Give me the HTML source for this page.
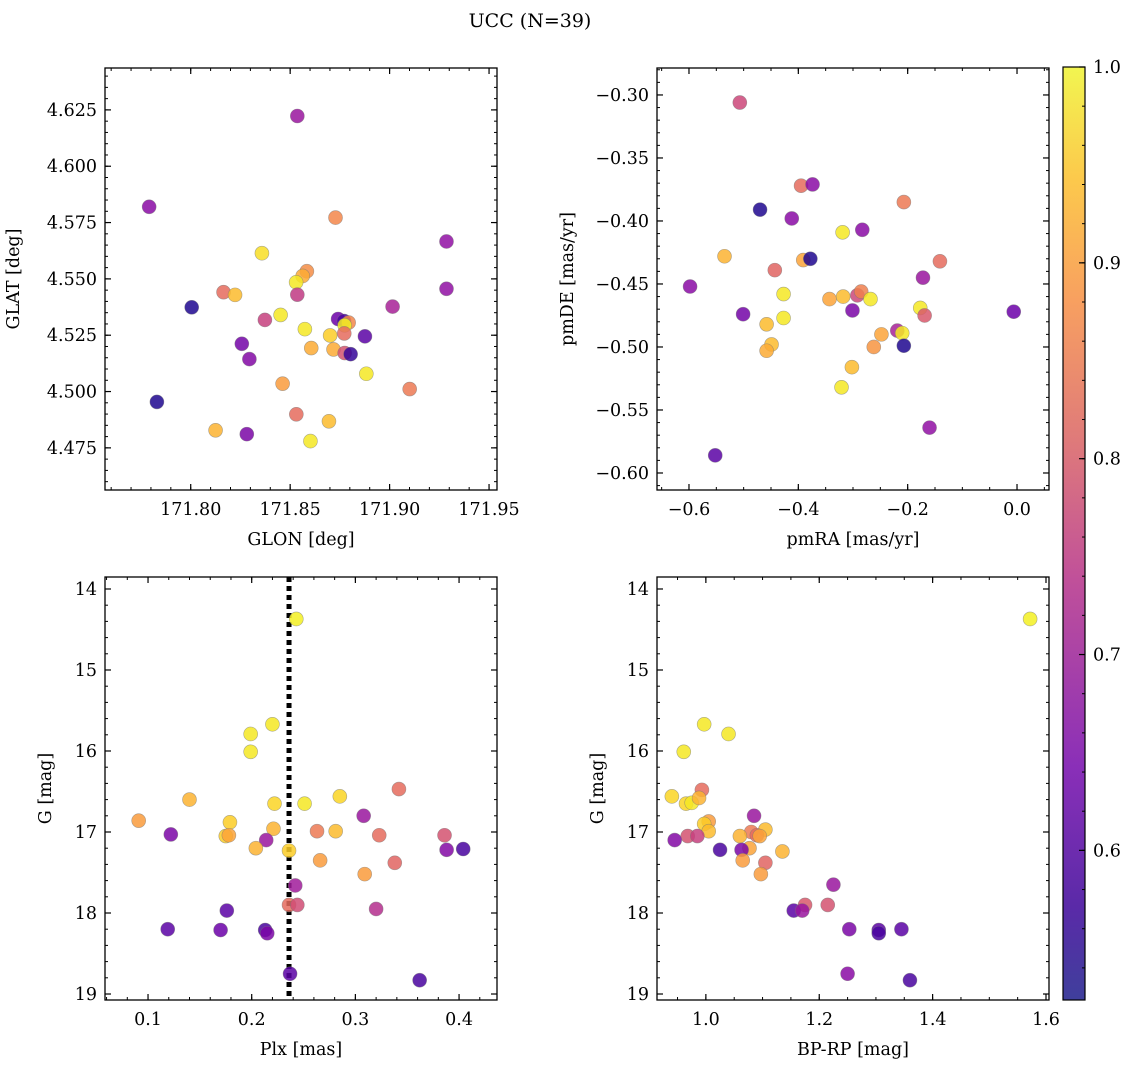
<!DOCTYPE html>
<html><head><meta charset="utf-8"><style>
html,body{margin:0;padding:0;background:#fff;}
svg{display:block;font-family:"DejaVu Serif","Liberation Serif",serif;}
</style></head><body>
<svg id="fig" width="1136" height="1067" viewBox="0 0 1136 1067" xmlns="http://www.w3.org/2000/svg">
<defs>
<linearGradient id="cmap" x1="0" y1="1" x2="0" y2="0">
<stop offset="0" stop-color="#3f3f9c"/><stop offset="0.1" stop-color="#5a2aa8"/><stop offset="0.25" stop-color="#8a2fb8"/><stop offset="0.45" stop-color="#c0509a"/><stop offset="0.6" stop-color="#df7a7a"/><stop offset="0.75" stop-color="#f8a060"/><stop offset="0.88" stop-color="#fcc94c"/><stop offset="1" stop-color="#f2f550"/>
</linearGradient>
</defs>
<text x="530" y="27" text-anchor="middle" font-size="19">UCC (N=39)</text>
</svg>
<script>
// Panel 1: sky position
const glon=[171.8536,171.7791,171.8728,171.9286,171.8358,171.8584,171.8563,171.8530,171.8165,171.8223,171.8536,171.9286,171.8005,171.9015,171.8452,171.8373,171.8741,171.8771,171.8794,171.8774,171.8574,171.8257,171.8876,171.8701,171.8772,171.8606,171.8718,171.8774,171.8804,171.8295,171.8883,171.8462,171.9101,171.7830,171.8531,171.8695,171.8125,171.8282,171.8602];
const glat=[4.6223,4.5820,4.5772,4.5666,4.5614,4.5534,4.5513,4.5485,4.5441,4.5429,4.5430,4.5456,4.5374,4.5377,4.5340,4.5318,4.5322,4.5313,4.5306,4.5294,4.5277,4.5212,4.5245,4.5249,4.5258,4.5193,4.5187,4.5171,4.5166,4.5144,4.5079,4.5035,4.5011,4.4954,4.4899,4.4868,4.4828,4.4811,4.4780];
const prob1=[0.68,0.66,0.86,0.67,0.97,0.87,0.91,0.98,0.82,0.93,0.74,0.67,0.54,0.70,0.98,0.75,0.62,0.58,0.86,0.99,0.98,0.63,0.60,0.95,0.82,0.91,0.91,0.78,0.56,0.65,0.98,0.89,0.84,0.54,0.82,0.93,0.92,0.64,0.98];
// Panel 2: proper motions
const pmra=[-0.507,-0.395,-0.374,-0.470,-0.412,-0.207,-0.319,-0.283,-0.535,-0.391,-0.378,-0.443,-0.141,-0.598,-0.172,-0.427,-0.343,-0.318,-0.292,-0.285,-0.268,-0.301,-0.177,-0.169,-0.501,-0.458,-0.427,-0.006,-0.219,-0.210,-0.248,-0.207,-0.262,-0.449,-0.458,-0.302,-0.321,-0.160,-0.552];
const pmde=[-0.306,-0.372,-0.371,-0.391,-0.398,-0.385,-0.409,-0.407,-0.428,-0.431,-0.430,-0.439,-0.432,-0.452,-0.445,-0.458,-0.462,-0.460,-0.459,-0.456,-0.462,-0.471,-0.469,-0.475,-0.474,-0.482,-0.477,-0.472,-0.487,-0.489,-0.490,-0.499,-0.500,-0.498,-0.503,-0.516,-0.532,-0.564,-0.586];
const prob2=[0.76,0.82,0.66,0.54,0.66,0.84,0.98,0.66,0.92,0.90,0.54,0.81,0.82,0.66,0.68,0.98,0.90,0.93,0.76,0.85,0.98,0.64,0.98,0.79,0.63,0.93,0.98,0.62,0.70,0.98,0.90,0.54,0.88,0.93,0.91,0.93,0.98,0.67,0.60];
// Panel 3: parallax vs G
const plx=[0.243,0.220,0.199,0.199,0.140,0.342,0.285,0.222,0.251,0.091,0.179,0.308,0.122,0.175,0.178,0.221,0.263,0.281,0.323,0.386,0.214,0.204,0.236,0.388,0.404,0.266,0.338,0.309,0.242,0.236,0.244,0.320,0.176,0.119,0.170,0.213,0.215,0.237,0.362];
const gmag3=[14.37,15.67,15.79,16.01,16.60,16.47,16.56,16.65,16.65,16.86,16.88,16.80,17.03,17.05,17.04,16.96,16.99,16.99,17.04,17.04,17.10,17.20,17.23,17.22,17.21,17.35,17.38,17.52,17.66,17.90,17.90,17.95,17.97,18.20,18.21,18.21,18.25,18.75,18.83];
const prob3=[0.99,0.98,0.98,0.98,0.92,0.82,0.96,0.96,0.98,0.89,0.95,0.68,0.64,0.95,0.90,0.92,0.84,0.93,0.82,0.78,0.68,0.92,0.95,0.65,0.58,0.89,0.81,0.89,0.69,0.82,0.77,0.72,0.60,0.60,0.62,0.58,0.64,0.60,0.58];
const plxLine=0.236;
// Panel 4: CMD
const bprp=[1.572,0.997,1.040,0.961,0.993,0.940,0.965,0.975,0.988,1.005,0.997,1.005,1.085,1.080,1.105,1.090,1.060,0.968,0.985,0.945,1.077,1.135,1.025,1.063,1.065,1.105,1.097,1.225,1.175,1.215,1.155,1.170,1.253,1.305,1.305,1.345,1.250,1.360,1.095];
const gmag4=[14.37,15.67,15.79,16.01,16.48,16.56,16.65,16.64,16.58,16.87,16.90,16.99,16.80,17.00,16.97,17.04,17.05,17.05,17.05,17.10,17.20,17.24,17.22,17.22,17.35,17.38,17.52,17.65,17.90,17.90,17.97,17.97,18.20,18.21,18.25,18.20,18.75,18.83,17.05];
const prob4=[0.99,0.98,0.98,0.98,0.82,0.96,0.96,0.98,0.92,0.89,0.95,0.93,0.68,0.84,0.93,0.82,0.92,0.78,0.75,0.65,0.90,0.92,0.58,0.64,0.89,0.81,0.89,0.68,0.79,0.78,0.60,0.68,0.64,0.60,0.58,0.60,0.66,0.58,0.90];
// tick labels
const xt1=[171.80,171.85,171.90,171.95], yt1=[4.475,4.500,4.525,4.550,4.575,4.600,4.625];
const xt2=[-0.6,-0.4,-0.2,0.0], yt2=[-0.60,-0.55,-0.50,-0.45,-0.40,-0.35,-0.30];
const xt3=[0.1,0.2,0.3,0.4], yt34=[14,15,16,17,18,19];
const xt4=[1.0,1.2,1.4,1.6];
const cbt=[0.6,0.7,0.8,0.9,1.0];

const NS="http://www.w3.org/2000/svg";
const svg=document.getElementById('fig');
const FS=17.5;
function mk(tag,attrs,parent){const e=document.createElementNS(NS,tag);for(const k in attrs)e.setAttribute(k,attrs[k]);(parent||svg).appendChild(e);return e;}
const stops=[[0,[13,8,135]],[0.1,[65,4,157]],[0.2,[106,0,168]],[0.3,[143,13,164]],[0.4,[177,42,144]],[0.5,[204,71,120]],[0.6,[225,100,98]],[0.7,[242,132,75]],[0.8,[252,166,54]],[0.9,[252,206,37]],[1,[240,249,33]]];
const vmin=0.5236,vmax=1.0;
function cmap(v){let t=Math.max(0,Math.min(1,(v-vmin)/(vmax-vmin)));for(let i=1;i<stops.length;i++){if(t<=stops[i][0]){const a=stops[i-1],b=stops[i],f=(t-a[0])/(b[0]-a[0]);const c=a[1].map((x,j)=>Math.round(x+(b[1][j]-x)*f));return `rgb(${c[0]},${c[1]},${c[2]})`;}}return 'rgb(240,249,33)';}
function fmt(v,d){return (v<0?'\u2212':'')+Math.abs(v).toFixed(d);}

function panel(o){
  const g=mk('g',{});
  
  
  const X=v=>o.L+(v-o.x0)/(o.x1-o.x0)*(o.R-o.L);
  const Y=v=>o.B-(v-o.y0)/(o.y1-o.y0)*(o.B-o.T);
  for(let v=Math.ceil(o.x0/o.xm-1e-9)*o.xm; v<=o.x1; v+=o.xm){const x=X(v);mk('line',{x1:x,x2:x,y1:o.B,y2:o.B-3,stroke:'#000','stroke-width':1},g);mk('line',{x1:x,x2:x,y1:o.T,y2:o.T+3,stroke:'#000','stroke-width':1},g);}
  for(let v=Math.ceil(o.y0/o.ym-1e-9)*o.ym; v<=o.y1; v+=o.ym){const y=Y(v);mk('line',{x1:o.L,x2:o.L+3,y1:y,y2:y,stroke:'#000','stroke-width':1},g);mk('line',{x1:o.R,x2:o.R-3,y1:y,y2:y,stroke:'#000','stroke-width':1},g);}
  o.xt.forEach(v=>{const x=X(v);mk('line',{x1:x,x2:x,y1:o.B,y2:o.B-6,stroke:'#000','stroke-width':1.2},g);mk('line',{x1:x,x2:x,y1:o.T,y2:o.T+6,stroke:'#000','stroke-width':1.2},g);
    const t=mk('text',{x:x,y:o.B+25,'text-anchor':'middle','font-size':FS},g);t.textContent=fmt(v,o.xd);});
  o.yt.forEach(v=>{const y=Y(v);mk('line',{x1:o.L,x2:o.L+6,y1:y,y2:y,stroke:'#000','stroke-width':1.2},g);mk('line',{x1:o.R,x2:o.R-6,y1:y,y2:y,stroke:'#000','stroke-width':1.2},g);
    const t=mk('text',{x:o.L-8,y:y+6,'text-anchor':'end','font-size':FS},g);t.textContent=fmt(v,o.yd);});
  const xl=mk('text',{x:(o.L+o.R)/2,y:o.B+55,'text-anchor':'middle','font-size':FS},g);xl.textContent=o.xlab;
  
  const yx=o.L-o.ylo;
  const yl=mk('text',{x:yx,y:(o.T+o.B)/2,'text-anchor':'middle','font-size':FS,transform:`rotate(-90 ${yx} ${(o.T+o.B)/2})`},g);yl.textContent=o.ylab;
  
  if(o.vline!==undefined){const l=mk('line',{x1:X(o.vline),x2:X(o.vline),y1:o.T,y2:o.B,stroke:'#000','stroke-width':5,'stroke-dasharray':'5,4'},g);}
  o.xs.forEach((v,i)=>{const c=mk('circle',{cx:X(v),cy:Y(o.ys[i]),r:7,fill:cmap(o.ps[i]),'fill-opacity':0.85,stroke:'#777','stroke-opacity':0.6,'stroke-width':0.6},g);
    
    });
  mk('rect',{x:o.L,y:o.T,width:o.R-o.L,height:o.B-o.T,fill:'none',stroke:'#000','stroke-width':1.3},g);
}
panel({name:'glon-glat-panel',L:105,R:497,T:68,B:490,x0:171.7569,x1:171.9540,y0:4.4563,y1:4.6436,xm:0.01,ym:0.005,xt:xt1,yt:yt1,xd:2,yd:3,xlab:'GLON [deg]',ylab:'GLAT [deg]',ylo:86,xs:glon,ys:glat,ps:prob1});
panel({name:'pm-panel',L:657,R:1049,T:68,B:490,x0:-0.6585,x1:0.0585,y0:-0.6135,y1:-0.2786,xm:0.05,ym:0.01,xt:xt2,yt:yt2,xd:1,yd:2,xlab:'pmRA [mas/yr]',ylab:'pmDE [mas/yr]',ylo:84,xs:pmra,ys:pmde,ps:prob2});
panel({name:'plx-g-panel',L:105,R:497,T:577,B:1000,x0:0.0585,x1:0.4366,y0:-19.074,y1:-13.852,xm:0.02,ym:0.2,xt:xt3,yt:[],xd:1,yd:0,xlab:'Plx [mas]',ylab:'G [mag]',ylo:54,xs:plx,ys:gmag3.map(v=>-v),ps:prob3,vline:plxLine});
panel({name:'cmd-panel',L:657,R:1049,T:577,B:1000,x0:0.9138,x1:1.6053,y0:-19.074,y1:-13.852,xm:0.05,ym:0.2,xt:xt4,yt:[],xd:1,yd:0,xlab:'BP-RP [mag]',ylab:'G [mag]',ylo:54,xs:bprp,ys:gmag4.map(v=>-v),ps:prob4});
[[105,497],[657,1049]].forEach(([L,R])=>{
  yt34.forEach(v=>{const y=1000-(-v+19.074)/(19.074-13.852)*423;
    mk('line',{x1:L,x2:L+6,y1:y,y2:y,stroke:'#000','stroke-width':1.2});mk('line',{x1:R,x2:R-6,y1:y,y2:y,stroke:'#000','stroke-width':1.2});
    const t=mk('text',{x:L-8,y:y+6,'text-anchor':'end','font-size':FS});t.textContent=String(v);
    
    });
});
const CT=67,CB=1000,CL=1063,CR=1085;
const cb=mk('rect',{x:CL,y:CT,width:CR-CL,height:CB-CT,fill:'url(#cmap)',stroke:'#000','stroke-width':1.2});


const CY=v=>CB-(v-vmin)/(vmax-vmin)*(CB-CT);
for(let v=0.54;v<1.0;v+=0.02){const y=CY(v);mk('line',{x1:CR,x2:CR-3,y1:y,y2:y,stroke:'#000','stroke-width':1});}
cbt.forEach(v=>{const y=CY(v);mk('line',{x1:CR,x2:CR-6,y1:y,y2:y,stroke:'#000','stroke-width':1.2});
  const t=mk('text',{x:CR+8,y:y+6,'font-size':FS});t.textContent=v.toFixed(1);
  
  });
</script>
</body></html>
